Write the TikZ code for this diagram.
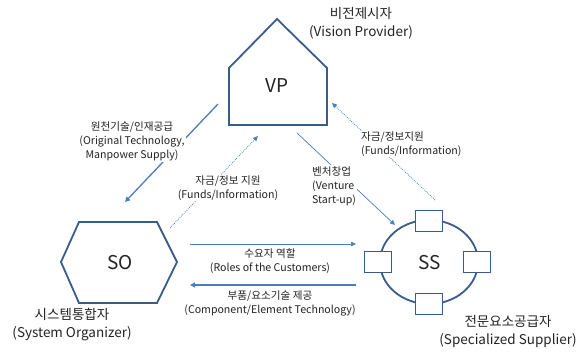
\documentclass[tikz,border=0pt]{standalone}
\usepackage{fontspec}
\setmainfont{Noto Sans CJK KR}
\usepackage{tikz}
\usetikzlibrary{arrows.meta,positioning,calc}

\definecolor{shapeblue}{RGB}{56,93,138}
\definecolor{arrowblue}{RGB}{74,126,187}
\definecolor{txtgray}{RGB}{35,35,35}

\begin{document}
\begin{tikzpicture}[x=1pt,y=-1pt,
		shapeline/.style={draw=shapeblue, line width=1.8pt, line join=miter},
		bigtxt/.style={font=\fontsize{19}{21}\selectfont, text=txtgray},
		titletxt/.style={font=\fontsize{13.5}{18}\selectfont, align=center, text=txtgray},
		lbl/.style={font=\fontsize{10.6}{14}\selectfont, text=txtgray, fill=white, inner sep=1pt},
		subbox/.style={draw=shapeblue, line width=1.8pt, fill=white, minimum width=27pt, minimum height=21pt, inner sep=0pt},
		thickarr/.style={draw=arrowblue, line width=1.3pt, -{Triangle[length=5pt,width=5pt]}},
		thinarr/.style={draw=arrowblue, line width=0.7pt, -{Triangle[length=5pt,width=4.5pt]}},
		dotarr/.style={draw=arrowblue, line width=0.8pt, dash pattern=on 0.8pt off 1.2pt, -{Triangle[length=5pt,width=4.5pt]}}]
		\useasboundingbox (0,0) rectangle (578,355);

		% vision provider
		\draw[shapeline] (229,125) -- (229,68) -- (277,19) -- (327,68) -- (327,125) -- cycle;
		\node[bigtxt] (vp) at (277,86) {VP};
		\node[titletxt] (vptitle) at (361,23) {비전제시자\\(Vision Provider)};

		% system organizer
		\draw[shapeline] (61,262) -- (79,222) -- (157,222) -- (177,262) -- (157,303) -- (79,303) -- cycle;
		\node[bigtxt] (so) at (120,263) {SO};
		\node[titletxt] (sotitle) at (72,325) {시스템통합자\\(System Organizer)};

		% specialized supplier
		\draw[shapeline] (429,262) ellipse [x radius=49, y radius=42];
		\node[bigtxt] (ss) at (430,263) {SS};
		\node[subbox] (ssT) at (429,221) {};
		\node[subbox] (ssB) at (429,304) {};
		\node[subbox] (ssL) at (378,262) {};
		\node[subbox] (ssR) at (477,262) {};
		\node[titletxt] (sstitle) at (508,331) {전문요소공급자\\(Specialized Supplier)};

		% arrow ends
		\coordinate (vpA) at (218,104);
		\coordinate (soA) at (125,202);
		\coordinate (soB) at (170,228);
		\coordinate (vpB) at (258,136);
		\coordinate (ssA) at (435,200);
		\coordinate (vpC) at (332,103);
		\coordinate (vpD) at (297,133);
		\coordinate (ssD) at (395,225);
		\coordinate (soR1) at (190,244);
		\coordinate (ssL1) at (356,244);
		\coordinate (ssL2) at (356,285);
		\coordinate (soR2) at (190,285);

		% connectors
		\draw[thickarr] (vpA) -- (soA);
		\node[lbl, align=center] (tech) at (132,141) {원천기술/인재공급\\(Original Technology,\\Manpower Supply)};
		\draw[dotarr] (soB) -- (vpB);
		\node[lbl, align=center] (funds1) at (228,188) {자금/정보 지원\\(Funds/Information)};
		\draw[dotarr] (ssA) -- (vpC);
		\node[lbl, align=left, anchor=west] (funds2) at (360,144) {자금/정보지원\\(Funds/Information)};
		\draw[thinarr] (vpD) -- (ssD);
		\node[lbl, align=left, anchor=west] (venture) at (311,186) {벤처창업\\(Venture\\Start-up)};
		\draw[thinarr] (soR1) -- (ssL1);
		\node[lbl, align=center] (roles) at (270,261) {수요자 역할\\(Roles of the Customers)};
		\draw[thickarr] (ssL2) -- (soR2);
		\node[lbl, align=center] (comp) at (270,303) {부품/요소기술 제공\\(Component/Element Technology)};
	\end{tikzpicture}
\end{document}
